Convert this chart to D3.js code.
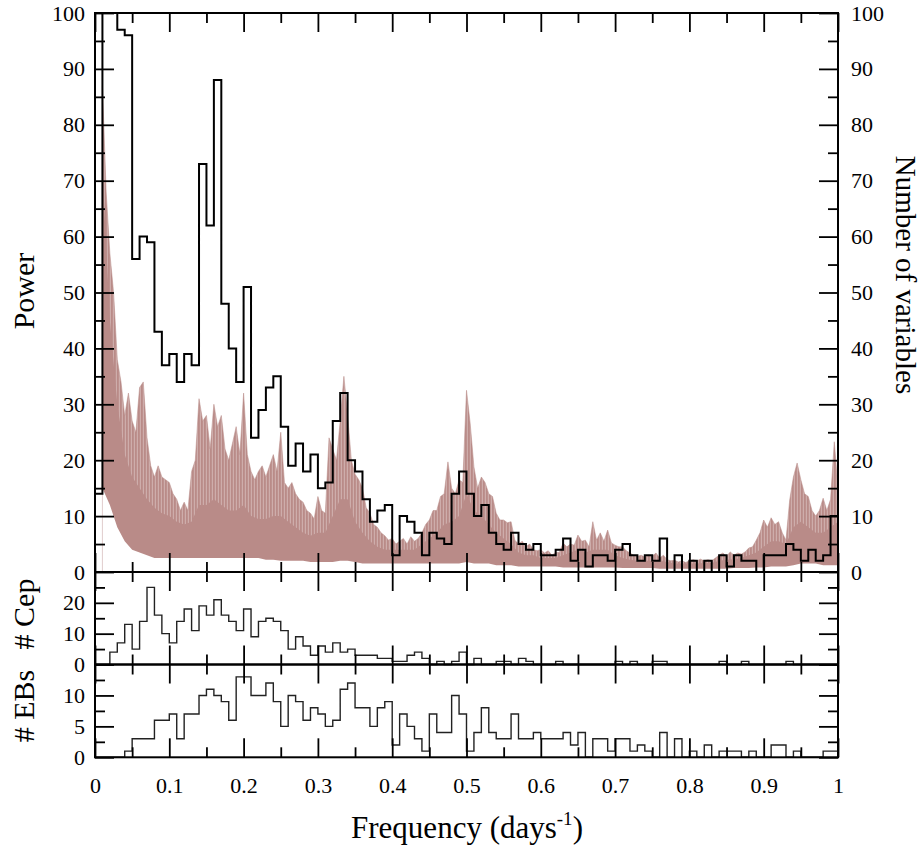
<!DOCTYPE html>
<html>
<head>
<meta charset="utf-8">
<script src="https://cdn.jsdelivr.net/npm/d3@7"></script>
<style>
  body { margin: 0; background: #fff; }
  text { font-family: "Liberation Serif", "Times New Roman", serif; fill: #000; }
</style>
</head>
<body>
<svg id="chart" width="924" height="846"></svg>
<script>
// ---- Histogram bins: 0.01 days^-1 wide, starting at 0.00 ----
// Number of variables per frequency bin (top panel, right axis)
const varCounts = [
  14, 130, 112, 97, 96, 56, 60, 59, 43, 37,
  39, 34, 39, 37, 73, 62, 88, 48, 40, 34,
  51, 24, 29, 33, 35, 26, 19, 23, 18, 21,
  15, 16, 27, 32, 20, 18, 13, 9, 11, 12,
  3, 10, 9, 7, 3, 7, 6, 5, 14, 18,
  14, 10, 12, 7, 5, 4, 7, 5, 4, 5,
  3, 3, 4, 6, 2, 4, 1, 3, 3, 2,
  4, 5, 3, 2, 3, 2, 6, 0, 3, 0,
  2, 0, 2, 0, 3, 1, 3, 2, 2, 0,
  3, 3, 3, 5, 4, 2, 4, 2, 3, 10
];
// Cepheids per bin (middle panel)
const cepCounts = [
  0, 0, 4, 7, 13, 5, 14, 25, 16, 10,
  7, 14, 18, 11, 19, 16, 21, 16, 14, 11,
  18, 9, 14, 15, 14, 11, 5, 9, 6, 3,
  6, 4, 7, 4, 5, 3, 3, 3, 2, 2,
  1, 1, 3, 4, 2, 0, 1, 0, 1, 4,
  0, 2, 0, 0, 1, 1, 0, 2, 1, 0,
  0, 0, 1, 0, 0, 0, 0, 0, 0, 0,
  1, 0, 1, 0, 0, 1, 1, 0, 0, 0,
  0, 0, 0, 0, 1, 0, 0, 1, 0, 0,
  0, 0, 0, 1, 0, 0, 0, 0, 0, 0
];
// Eclipsing binaries per bin (bottom panel)
const ebCounts = [
  0, 0, 0, 0, 1, 3, 3, 3, 6, 6,
  7, 3, 7, 7, 10, 11, 10, 9, 6, 13,
  13, 10, 10, 12, 9, 5, 10, 9, 6, 8,
  7, 5, 6, 11, 12, 8, 8, 5, 8, 9,
  2, 7, 5, 3, 1, 7, 4, 4, 10, 7,
  1, 4, 8, 4, 3, 3, 7, 3, 3, 4,
  3, 3, 3, 4, 2, 4, 0, 3, 3, 1,
  3, 3, 1, 2, 1, 0, 4, 0, 3, 0,
  1, 0, 2, 0, 1, 1, 1, 0, 1, 0,
  0, 2, 2, 0, 1, 0, 0, 0, 1, 1
];

// ---- Power spectrum ----
// Spike tops, sampled every 0.005 days^-1 from 0.010 to 1.000
const specPeak = [
  87, 68, 57, 50, 38, 34, 28, 32, 27, 25,
  33, 34, 24, 19, 17, 19, 17, 16.5, 16, 14,
  13, 11, 12.5, 11, 18, 20, 31, 27, 28, 22,
  30, 26, 28, 22, 20, 23, 26, 21, 32, 21,
  18, 16.5, 18, 19, 17, 19, 21, 18, 25, 16,
  15, 16, 14, 13, 12.5, 11, 10.5, 9.5, 13.5, 11,
  10.5, 24, 22, 20, 27, 35, 28, 20, 17.5, 16.5,
  15, 11.5, 10.5, 8.5, 8, 7, 6.5, 5.7, 6, 5,
  5.5, 6, 5, 6.3, 5.5, 6, 7, 8.5, 9.3, 11,
  11, 13.5, 14, 19.7, 15, 14, 16.5, 16, 32.5, 26.5,
  18.8, 15, 17, 16, 14, 13.5, 10.5, 9.3, 9.3, 8.8,
  9, 5.7, 5, 5.5, 4.5, 5, 4, 3.8, 4, 3.4,
  3.8, 3, 3.5, 3.5, 5.2, 4.5, 5, 4.8, 6.6, 5.5,
  5.7, 4.5, 9, 5.7, 7, 5.5, 7.5, 5.2, 4.8, 4.5,
  4.5, 3.8, 3.4, 3, 2.8, 3, 2.7, 3, 2.8, 3.4,
  2.5, 3, 2.2, 2, 2.1, 1.8, 2, 1.7, 2, 2.2,
  2, 2.3, 2, 2.2, 2, 2.5, 3, 3.4, 2.8, 3.6,
  3, 3.4, 3.2, 3.6, 4.3, 4.5, 5.7, 7, 9.3, 8,
  9.7, 8.5, 9, 7, 5.7, 12.9, 17, 19.5, 16.5, 14,
  13.5, 11, 10, 11, 13.2, 11, 13, 23.3, 15
];
// Top of the dense part of the spectrum, every 0.01 from 0.01 to 1.00
const specCore = [
  72, 45, 30, 21, 17, 15, 13, 11.5, 10.5, 10,
  9, 8.5, 9, 12, 12, 13, 12, 11, 11, 12,
  10, 9.5, 9.5, 10, 10, 9, 8, 7, 6.5, 7,
  7, 10, 13, 13, 9, 7, 5.5, 4.5, 4, 4,
  4, 4, 4, 5, 6, 7, 8.5, 9, 10, 14,
  11, 10, 8.5, 7, 6, 5, 3.5, 3, 3, 2.5,
  2.5, 2.5, 3, 3.5, 4, 3.5, 4, 4, 4, 3,
  2.5, 2.2, 2, 2, 2, 2, 1.8, 1.5, 1.5, 1.5,
  1.5, 1.6, 1.6, 2, 2.2, 2.3, 2.5, 3, 3.5, 4.5,
  5.5, 5.5, 5, 8, 9, 8, 7, 7, 8, 9
];
// Lowest values of the spectrum, every 0.01 from 0.01 to 1.00
const specFloor = [
  15, 12, 8, 5.5, 4, 3.5, 3, 2.5, 2.5, 2.5,
  2.5, 2.5, 2.5, 2.5, 2.5, 2.5, 2.5, 2.5, 2.5, 2.5,
  2.5, 2.5, 2.2, 2.2, 2, 2, 2, 2, 1.8, 1.8,
  1.8, 1.8, 2, 2, 1.8, 1.5, 1.5, 1.5, 1.5, 1.5,
  1.5, 1.5, 1.5, 1.5, 1.5, 1.5, 1.5, 1.5, 1.5, 1.8,
  1.5, 1.5, 1.5, 1.2, 1.2, 1.2, 1, 1, 1, 1,
  1, 1, 0.8, 0.8, 0.8, 0.8, 0.8, 0.8, 0.8, 0.8,
  0.7, 0.7, 0.7, 0.7, 0.7, 0.6, 0.6, 0.6, 0.6, 0.6,
  0.6, 0.6, 0.6, 0.6, 0.6, 0.7, 0.7, 0.7, 0.8, 0.8,
  1, 1, 1, 1.2, 1.5, 1.5, 1.5, 1.2, 1.2, 1.2
];

// ---- Axis ticks ----
const freqMajor = [0, 0.1, 0.2, 0.3, 0.4, 0.5, 0.6, 0.7, 0.8, 0.9, 1];
const freqLabels = ["0", "0.1", "0.2", "0.3", "0.4", "0.5", "0.6", "0.7", "0.8", "0.9", "1"];
const freqMinor = [0.05, 0.15, 0.25, 0.35, 0.45, 0.55, 0.65, 0.75, 0.85, 0.95];
const powerMajor = [0, 10, 20, 30, 40, 50, 60, 70, 80, 90, 100];
const powerMinor = [5, 15, 25, 35, 45, 55, 65, 75, 85, 95];
const cepMajor = [0, 10, 20];
const cepMinor = [5, 15, 25];
const ebMajor = [0, 5, 10];
const ebMinor = [2.5, 7.5, 12.5];

// ---- Layout ----
const X0 = 95, X1 = 838;
const panels = {
  power: { top: 13, bottom: 572 },
  cep: { top: 572, bottom: 664.5 },
  eb: { top: 664.5, bottom: 757.3 }
};
const specColor = "#b98b88";

const svg = d3.select("#chart");
const x = d3.scaleLinear().domain([0, 1]).range([X0, X1]);
const yPow = d3.scaleLinear().domain([0, 100]).range([panels.power.bottom, panels.power.top]);
const yCep = d3.scaleLinear().domain([0, 30]).range([panels.cep.bottom, panels.cep.top]);
const yEb = d3.scaleLinear().domain([0, 15]).range([panels.eb.bottom, panels.eb.top]);

const binWidth = 0.01;
const peakFreq = specPeak.map((_, i) => 0.01 + i * 0.005);
const coreFreq = specCore.map((_, i) => 0.01 + i * 0.01);

const defs = svg.append("defs");
defs.append("clipPath").attr("id", "clipPower")
  .append("rect").attr("x", X0).attr("y", panels.power.top)
  .attr("width", X1 - X0).attr("height", panels.power.bottom - panels.power.top);

// vertical striation for the sparse spikes of the periodogram
const stripes = defs.append("pattern").attr("id", "spikes")
  .attr("patternUnits", "userSpaceOnUse").attr("width", 3).attr("height", 8);
stripes.append("rect").attr("width", 3).attr("height", 8).attr("fill", specColor).attr("fill-opacity", 0.7);
stripes.append("rect").attr("width", 1.8).attr("height", 8).attr("fill", specColor);

// mask hides everything below the spectrum floor
const mask = defs.append("mask").attr("id", "floorMask")
  .attr("maskUnits", "userSpaceOnUse")
  .attr("x", 0).attr("y", 0).attr("width", 924).attr("height", 846);
mask.append("rect").attr("x", 0).attr("y", 0).attr("width", 924).attr("height", 846).attr("fill", "#fff");
mask.append("path")
  .datum(coreFreq.map((f, i) => [f, specFloor[i]]))
  .attr("fill", "#000")
  .attr("d", d3.area().x(d => x(d[0])).y0(yPow(0) + 2).y1(d => yPow(d[1])));

// ---- Power spectrum ----
const spec = svg.append("g").attr("clip-path", "url(#clipPower)")
  .append("g").attr("mask", "url(#floorMask)");
spec.append("path")
  .datum(peakFreq.map((f, i) => [f, specPeak[i]]))
  .attr("fill", "url(#spikes)")
  .attr("stroke", specColor).attr("stroke-opacity", 0.6).attr("stroke-width", 0.9)
  .attr("d", d3.area().x(d => x(d[0])).y0(yPow(0)).y1(d => yPow(d[1])));
spec.append("path")
  .datum(coreFreq.map((f, i) => [f, specCore[i]]))
  .attr("fill", specColor)
  .attr("d", d3.area().x(d => x(d[0])).y0(yPow(0)).y1(d => yPow(d[1])));

// ---- Step histograms ----
function stepData(counts) {
  const pts = counts.map((v, i) => [i * binWidth, v]);
  pts.push([1, counts[counts.length - 1]]);
  return pts;
}
function drawSteps(counts, y, width, color, clip) {
  const g = svg.append("g");
  if (clip) g.attr("clip-path", clip);
  g.append("path")
    .datum(stepData(counts))
    .attr("fill", "none").attr("stroke", color).attr("stroke-width", width)
    .attr("stroke-linejoin", "miter")
    .attr("d", d3.line().curve(d3.curveStepAfter).x(d => x(d[0])).y(d => y(d[1])));
}
drawSteps(varCounts, yPow, 2, "#000", "url(#clipPower)");
drawSteps(cepCounts, yCep, 1.4, "#222", null);
drawSteps(ebCounts, yEb, 1.4, "#222", null);

// ---- Axes ----
const tickW = 1.8;
function styleAxis(g) {
  g.select(".domain").remove();
  g.selectAll("line").attr("stroke", "#000").attr("stroke-width", tickW);
  g.attr("font-family", null).attr("font-size", null);
  g.selectAll("text").attr("font-size", 22);
}
function drawPanelAxes(p, y, major, minor, opts) {
  // x ticks on top and bottom edges, pointing inward
  svg.append("g").attr("transform", `translate(0,${p.bottom})`)
    .call(d3.axisBottom(x).tickValues(freqMajor).tickSize(-19)
      .tickPadding(20)
      .tickFormat(opts.xLabels ? (d, i) => freqLabels[i] : () => ""))
    .call(styleAxis);
  svg.append("g").attr("transform", `translate(0,${p.bottom})`)
    .call(d3.axisBottom(x).tickValues(freqMinor).tickSize(-10).tickFormat(() => ""))
    .call(styleAxis);
  svg.append("g").attr("transform", `translate(0,${p.top})`)
    .call(d3.axisTop(x).tickValues(freqMajor).tickSize(-19).tickFormat(() => ""))
    .call(styleAxis);
  svg.append("g").attr("transform", `translate(0,${p.top})`)
    .call(d3.axisTop(x).tickValues(freqMinor).tickSize(-10).tickFormat(() => ""))
    .call(styleAxis);
  // y ticks on left and right edges, pointing inward
  svg.append("g").attr("transform", `translate(${X0},0)`)
    .call(d3.axisLeft(y).tickValues(major).tickSize(-19).tickPadding(10).tickFormat(d3.format("d")))
    .call(styleAxis);
  svg.append("g").attr("transform", `translate(${X0},0)`)
    .call(d3.axisLeft(y).tickValues(minor).tickSize(-10).tickFormat(() => ""))
    .call(styleAxis);
  svg.append("g").attr("transform", `translate(${X1},0)`)
    .call(d3.axisRight(y).tickValues(major).tickSize(-19).tickPadding(13)
      .tickFormat(opts.rightLabels ? d3.format("d") : () => ""))
    .call(styleAxis);
  svg.append("g").attr("transform", `translate(${X1},0)`)
    .call(d3.axisRight(y).tickValues(minor).tickSize(-10).tickFormat(() => ""))
    .call(styleAxis);
  // frame
  svg.append("rect")
    .attr("x", X0).attr("y", p.top).attr("width", X1 - X0).attr("height", p.bottom - p.top)
    .attr("fill", "none").attr("stroke", "#000").attr("stroke-width", 2);
}
drawPanelAxes(panels.power, yPow, powerMajor, powerMinor, { rightLabels: true });
drawPanelAxes(panels.cep, yCep, cepMajor, cepMinor, {});
drawPanelAxes(panels.eb, yEb, ebMajor, ebMinor, { xLabels: true });

// ---- Titles ----
function vTitle(label, cx, cy, angle, size) {
  svg.append("text")
    .attr("transform", `translate(${cx},${cy}) rotate(${angle})`)
    .attr("text-anchor", "middle").attr("dy", "0.35em")
    .attr("font-size", size).text(label);
}
vTitle("Power", 23, 291, -90, 30);
vTitle("# Cep", 23, 614, -90, 30);
vTitle("# EBs", 23, 706, -90, 30);
vTitle("Number of variables", 906, 275, 90, 29);

const xt = svg.append("text")
  .attr("x", 467).attr("y", 838).attr("text-anchor", "middle").attr("font-size", 31);
xt.append("tspan").text("Frequency (days");
xt.append("tspan").attr("font-size", 19).attr("dy", -13).text("-1");
xt.append("tspan").attr("dy", 13).text(")");
</script>
</body>
</html>
